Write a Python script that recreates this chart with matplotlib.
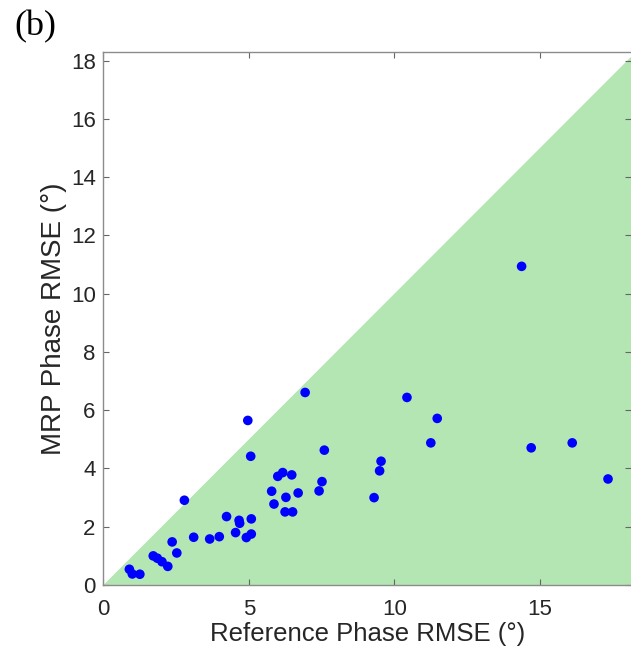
import matplotlib.pyplot as plt

# reference vs MRP phase RMSE (degrees)
ref_rmse = [0.89, 0.99, 1.25, 1.71, 1.85, 2.01, 2.21, 2.36, 2.52, 2.78,
            3.10, 3.65, 3.98, 4.23, 4.54, 4.66, 4.68, 4.91, 5.08, 5.08,
            4.96, 5.06, 6.93, 7.59, 7.51, 7.41, 5.78, 5.86, 5.99, 6.16,
            6.47, 6.27, 6.24, 6.50, 6.69, 9.30, 9.49, 9.54, 10.43, 11.47,
            11.25, 14.37, 14.70, 16.11, 17.34]
mrp_rmse = [0.54, 0.38, 0.37, 1.00, 0.92, 0.80, 0.64, 1.48, 1.10, 2.91,
            1.64, 1.58, 1.66, 2.35, 1.80, 2.22, 2.12, 1.63, 1.75, 2.27,
            5.65, 4.42, 6.61, 4.63, 3.55, 3.23, 3.22, 2.78, 3.73, 3.86,
            3.78, 3.01, 2.51, 2.51, 3.16, 3.00, 3.92, 4.25, 6.44, 5.72,
            4.88, 10.94, 4.71, 4.88, 3.64]

x_ticks = [0, 5, 10, 15]
y_ticks = [0, 2, 4, 6, 8, 10, 12, 14, 16, 18]

plt.rcParams['font.family'] = ['Liberation Sans', 'DejaVu Sans']

fig = plt.figure(figsize=(6.31, 6.62), dpi=100)
ax = fig.add_axes([0.164, 0.1163, 0.836, 0.8052])

# region where MRP beats reference (below y = x)
diag = [0, 25]
ax.fill_between(diag, diag, 0, color='#b3e6b3', linewidth=0, zorder=1)

ax.scatter(ref_rmse, mrp_rmse, s=48, color='#0000ff', edgecolors='none', zorder=3)

ax.set_xlim(0, 18.13)
ax.set_ylim(0, 18.3)
ax.set_xticks(x_ticks)
ax.set_yticks(y_ticks)

ax.tick_params(direction='in', length=4, width=0.8, color='#666666',
               labelsize=16, labelcolor='#262626', top=True, right=True)
ax.tick_params(axis='x', pad=10)
ax.tick_params(axis='y', pad=5.6)
for side in ['left', 'bottom', 'top']:
    ax.spines[side].set_color('#8c8c8c')
    ax.spines[side].set_linewidth(1.0)
ax.spines['right'].set_visible(False)

ax.set_xlabel('Reference Phase RMSE (°)', fontsize=18.5, color='#262626', labelpad=1.5)
ax.set_ylabel('MRP Phase RMSE (°)', fontsize=20, color='#262626', labelpad=3)

fig.text(0.022, 0.985, '(b)', fontsize=26, family='Liberation Serif',
         color='black', va='top')

fig.savefig('out.png', dpi=100)
